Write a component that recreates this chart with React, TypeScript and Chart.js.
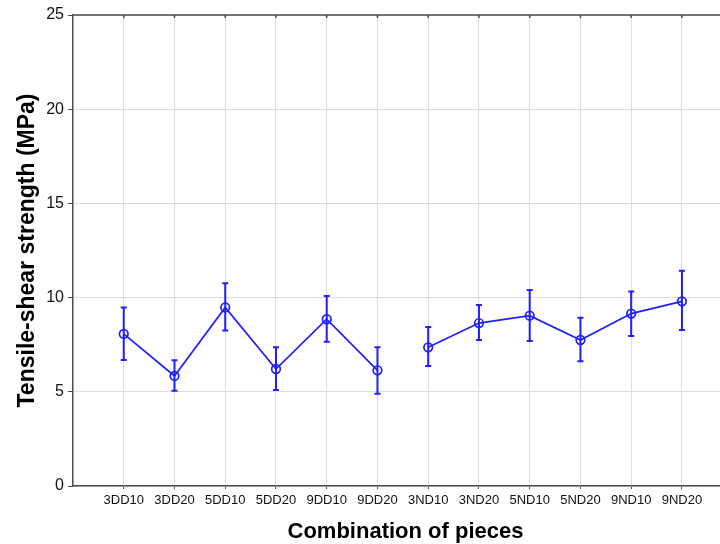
import React, { useEffect, useRef } from "react";
import { Chart, registerables } from "chart.js";

Chart.register(...registerables);

const categories = [
  "3DD10", "3DD20", "5DD10", "5DD20", "9DD10", "9DD20",
  "3ND10", "3ND20", "5ND10", "5ND20", "9ND10", "9ND20",
];

// Group 1: DD combinations (indices 0-5)
const meanDD = [8.07, 5.84, 9.48, 6.21, 8.85, 6.14];
const lowDD = [6.69, 5.06, 8.26, 5.10, 7.66, 4.90];
const highDD = [9.48, 6.67, 10.76, 7.36, 10.08, 7.36];

// Group 2: ND combinations (indices 6-11)
const meanND = [7.36, 8.65, 9.04, 7.75, 9.15, 9.80];
const lowND = [6.37, 7.75, 7.70, 6.62, 7.96, 8.28];
const highND = [8.44, 9.61, 10.40, 8.93, 10.33, 11.43];

const yTicks = [0, 5, 10, 15, 20, 25];

const xTitle = "Combination of pieces";
const yTitle = "Tensile-shear strength (MPa)";

const BLUE = "#1e1eff";
const AXIS = "#4d4d4d";
const GRID = "#dedede";
const FONT = "'Liberation Sans', Arial, sans-serif";

const errorBarPlugin = {
  id: "errorBars",
  beforeDatasetsDraw(chart: any) {
    const { ctx, scales } = chart;
    const xs = scales.x;
    const ys = scales.y;
    ctx.save();
    chart.data.datasets.forEach((ds: any) => {
      const low: number[] = ds.errLow;
      const high: number[] = ds.errHigh;
      if (!low || !high) return;
      ds.data.forEach((p: any, i: number) => {
        const x = xs.getPixelForValue(p.x);
        const yl = ys.getPixelForValue(low[i]);
        const yh = ys.getPixelForValue(high[i]);
        ctx.strokeStyle = ds.borderColor;
        ctx.lineWidth = 2;
        ctx.beginPath();
        ctx.moveTo(x, yl);
        ctx.lineTo(x, yh);
        ctx.moveTo(x - 3, yl);
        ctx.lineTo(x + 3, yl);
        ctx.moveTo(x - 3, yh);
        ctx.lineTo(x + 3, yh);
        ctx.stroke();
      });
    });
    ctx.restore();
  },
};

const framePlugin = {
  id: "frameTop",
  afterDraw(chart: any) {
    const { ctx, chartArea, scales } = chart;
    ctx.save();
    ctx.strokeStyle = AXIS;
    ctx.lineWidth = 1.5;
    ctx.beginPath();
    ctx.moveTo(chartArea.left, chartArea.top);
    ctx.lineTo(chartArea.right, chartArea.top);
    scales.x.ticks.forEach((t: any) => {
      const x = scales.x.getPixelForValue(t.value);
      ctx.moveTo(x, chartArea.top);
      ctx.lineTo(x, chartArea.top + 3);
    });
    ctx.stroke();
    // x-axis title
    ctx.fillStyle = "#000";
    ctx.font = `bold 22px ${FONT}`;
    ctx.textAlign = "center";
    ctx.textBaseline = "middle";
    const cx = (chartArea.left + chartArea.right) / 2 + 9;
    ctx.fillText(xTitle, cx, chart.height - 12);
    ctx.restore();
  },
};

export default function App() {
  const ref = useRef<HTMLCanvasElement | null>(null);

  useEffect(() => {
    document.body.style.margin = "0";
    const canvas = ref.current;
    if (!canvas) return;

    const dsDD = meanDD.map((v, i) => ({ x: i, y: v }));
    const dsND = meanND.map((v, i) => ({ x: i + meanDD.length, y: v }));

    const common = {
      borderColor: BLUE,
      backgroundColor: "rgba(0,0,0,0)",
      borderWidth: 1.7,
      pointRadius: 4.3,
      pointBorderWidth: 1.7,
      pointBackgroundColor: "rgba(0,0,0,0)",
      pointBorderColor: BLUE,
      tension: 0,
      fill: false,
    };

    const chart = new Chart(canvas, {
      type: "line",
      data: {
        datasets: [
          { ...common, label: "DD", data: dsDD, errLow: lowDD, errHigh: highDD } as any,
          { ...common, label: "ND", data: dsND, errLow: lowND, errHigh: highND } as any,
        ],
      },
      options: {
        animation: false,
        responsive: false,
        devicePixelRatio: 1,
        layout: { autoPadding: false, padding: { top: 15, right: 0, left: 0, bottom: 0 } },
        plugins: {
          legend: { display: false },
          tooltip: { enabled: false },
        },
        scales: {
          x: {
            type: "linear",
            min: -1,
            max: 11.75,
            afterBuildTicks: (scale: any) => {
              scale.ticks = categories.map((_, i) => ({ value: i }));
            },
            afterFit: (scale: any) => {
              scale.height = 58;
            },
            grid: {
              color: GRID,
              lineWidth: 1,
              tickLength: 3,
              tickColor: AXIS,
              drawTicks: true,
            },
            border: { display: true, color: AXIS, width: 1.5 },
            ticks: {
              autoSkip: false,
              maxRotation: 0,
              padding: 4,
              color: "#111",
              font: { family: FONT, size: 13 },
              callback: (v: any) => categories[v] ?? "",
            },
            title: { display: false },
          },
          y: {
            type: "linear",
            min: 0,
            max: 25,
            afterBuildTicks: (scale: any) => {
              scale.ticks = yTicks.map((v) => ({ value: v }));
            },
            afterFit: (scale: any) => {
              scale.width = 73;
            },
            grid: {
              color: GRID,
              lineWidth: 1,
              tickLength: 5,
              tickColor: AXIS,
            },
            border: { display: true, color: AXIS, width: 1.5 },
            ticks: {
              padding: 4,
              color: "#111",
              font: { family: FONT, size: 16 },
            },
            title: {
              display: true,
              text: yTitle,
              color: "#000",
              font: { family: FONT, size: 23, weight: "bold", lineHeight: 1.2 },
              padding: { top: 14, bottom: 0 },
            },
          },
        },
      } as any,
      plugins: [errorBarPlugin, framePlugin],
    });

    return () => chart.destroy();
  }, []);

  return (
    <div style={{ width: 720, height: 544 }}>
      <canvas ref={ref} width={720} height={544} />
    </div>
  );
}
